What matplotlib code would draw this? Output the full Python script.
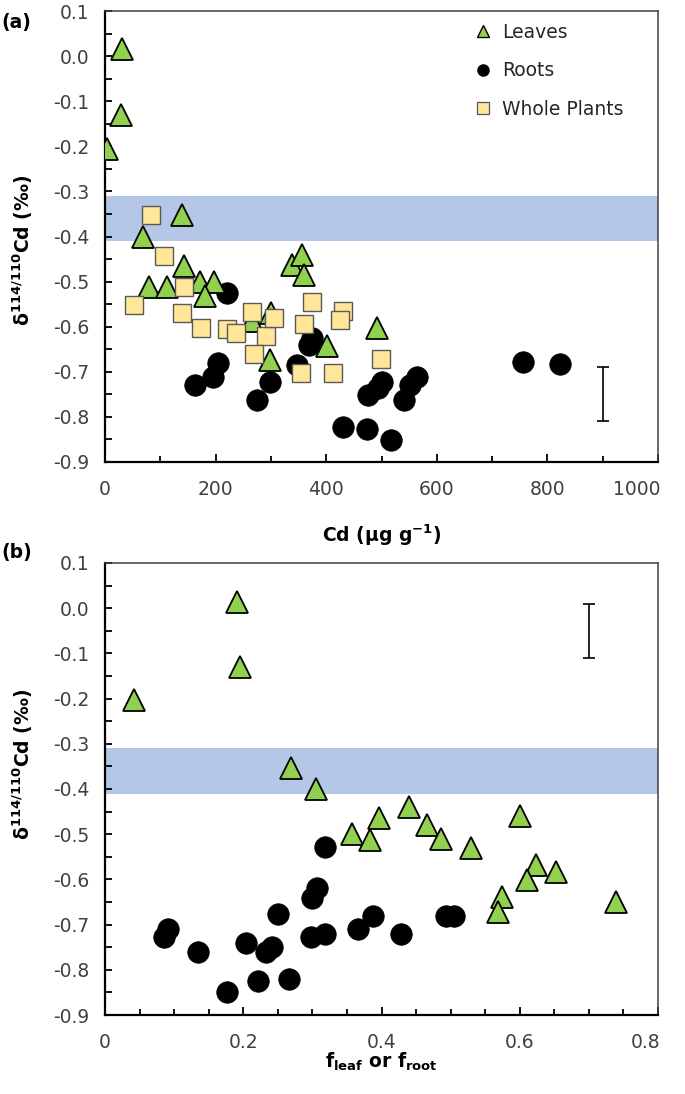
import matplotlib
matplotlib.use("Agg")
import matplotlib.pyplot as plt
from matplotlib.lines import Line2D
from matplotlib.ticker import MultipleLocator, FuncFormatter

# ---------------- data ----------------
# Panel (a): delta vs Cd concentration
leaves_cd = [3, 29, 30, 68, 140, 142, 80, 112, 171, 197, 181, 338, 356, 360, 266, 300, 298, 401, 491]
leaves_delta_a = [-0.206, -0.131, 0.016, -0.402, -0.352, -0.465, -0.511, -0.513, -0.500, -0.500,
                  -0.532, -0.463, -0.442, -0.486, -0.587, -0.570, -0.674, -0.642, -0.602]
roots_cd = [220, 205, 196, 163, 298, 275, 374, 368, 347, 431, 473, 518, 476, 493, 500, 541, 551, 564, 755, 823]
roots_delta_a = [-0.526, -0.681, -0.711, -0.729, -0.722, -0.763, -0.626, -0.641, -0.685, -0.822,
                 -0.827, -0.851, -0.751, -0.737, -0.722, -0.763, -0.729, -0.711, -0.679, -0.683]
whole_cd = [83, 107, 142, 52, 140, 174, 220, 237, 266, 292, 270, 306, 375, 431, 425, 360, 355, 413, 499]
whole_delta = [-0.352, -0.443, -0.511, -0.552, -0.570, -0.602, -0.606, -0.614, -0.568, -0.620,
               -0.660, -0.580, -0.545, -0.565, -0.585, -0.593, -0.702, -0.703, -0.672]

# Panel (b): delta vs fraction
leaves_f = [0.0415, 0.1905, 0.196, 0.269, 0.305, 0.358, 0.396, 0.383, 0.440, 0.466,
            0.486, 0.529, 0.600, 0.623, 0.652, 0.610, 0.574, 0.569, 0.739]
leaves_delta_b = [-0.203, 0.014, -0.130, -0.354, -0.400, -0.500, -0.465, -0.513, -0.440, -0.479,
                  -0.511, -0.530, -0.460, -0.569, -0.584, -0.601, -0.640, -0.672, -0.650]
roots_f = [0.0907, 0.0858, 0.134, 0.177, 0.2035, 0.221, 0.2325, 0.242, 0.2498, 0.2667,
           0.2975, 0.318, 0.300, 0.306, 0.318, 0.3665, 0.388, 0.428, 0.4933, 0.505]
roots_delta_b = [-0.710, -0.727, -0.761, -0.848, -0.740, -0.824, -0.761, -0.749, -0.677, -0.820,
                 -0.728, -0.721, -0.642, -0.620, -0.528, -0.710, -0.680, -0.721, -0.680, -0.682]

# shaded band (source range) and typical uncertainty bars
band = (-0.41, -0.31)
err_a = (900, -0.75, 0.06)
err_b = (0.70, -0.05, 0.06)

series_labels = ["Leaves", "Roots", "Whole Plants"]

# ---------------- style ----------------
plt.rcParams['font.family'] = ['DejaVu Sans']
plt.rcParams['mathtext.fontset'] = 'dejavusans'
GREEN = '#92d050'
YELLOW = '#ffe699'
BLUE = '#b4c7e7'
TICKC = '#404040'
FS = 13.5
XPAD = 13

fig = plt.figure(figsize=(6.85, 10.94), dpi=100)
ax_a = fig.add_axes([0.1533, 0.5777, 0.8073, 0.4122])
ax_b = fig.add_axes([0.1533, 0.0722, 0.8073, 0.4132])

fmt1 = FuncFormatter(lambda v, p: f"{round(v, 1):.1f}".replace("-0.0", "0.0"))


def style_axes(ax):
    ax.set_ylim(-0.9, 0.1)
    ax.yaxis.set_major_locator(MultipleLocator(0.1))
    ax.yaxis.set_minor_locator(MultipleLocator(0.05))
    ax.yaxis.set_major_formatter(fmt1)
    ax.tick_params(axis='both', which='both', direction='in', colors='black',
                   labelcolor=TICKC, labelsize=FS)
    ax.tick_params(axis='y', which='both', length=5, width=1.3, pad=11)
    ax.tick_params(axis='x', which='major', length=6, width=1.3, pad=XPAD)
    ax.tick_params(axis='x', which='minor', length=4, width=1.3)
    ax.tick_params(top=False, right=False, which='both')
    for s in ['left', 'bottom']:
        ax.spines[s].set_color('black')
        ax.spines[s].set_linewidth(1.6)
    for s in ['top', 'right']:
        ax.spines[s].set_color('#404040')
        ax.spines[s].set_linewidth(1.1)
    ax.axhspan(band[0], band[1], color=BLUE, lw=0, zorder=0.5)
    ax.set_ylabel(r'δ$^{\mathbf{114/110}}$Cd (‰)', fontsize=FS, fontweight='bold')


def scatter(ax, x, y, kind):
    if kind == 'leaves':
        ax.plot(x, y, ls='none', marker='^', ms=16, mfc=GREEN, mec='black', mew=1.3, zorder=3)
    elif kind == 'roots':
        ax.plot(x, y, ls='none', marker='o', ms=15.5, mfc='black', mec='black', mew=0.5, zorder=2)
    else:
        ax.plot(x, y, ls='none', marker='s', ms=13.5, mfc=YELLOW, mec='#595959', mew=1.0, zorder=4)


def x_formatter(xmax, fmt):
    # last label is drawn separately, right-aligned at the axis end (as in the original)
    def f(v, p):
        if abs(v - xmax) < 1e-9:
            return ""
        return fmt(v)
    return FuncFormatter(f)


def last_xlabel(ax, text):
    ax.annotate(text, xy=(1, 0), xycoords='axes fraction', xytext=(1.5, -XPAD),
                textcoords='offset points', ha='right', va='top', fontsize=FS, color=TICKC)


# ---------------- panel (a) ----------------
style_axes(ax_a)
ax_a.set_xlim(0, 1000)
ax_a.xaxis.set_major_locator(MultipleLocator(200))
ax_a.xaxis.set_minor_locator(MultipleLocator(100))
ax_a.xaxis.set_major_formatter(x_formatter(1000, lambda v: f"{v:.0f}"))
last_xlabel(ax_a, "1000")
scatter(ax_a, roots_cd, roots_delta_a, 'roots')
scatter(ax_a, leaves_cd, leaves_delta_a, 'leaves')
scatter(ax_a, whole_cd, whole_delta, 'whole')
ax_a.errorbar([err_a[0]], [err_a[1]], yerr=[err_a[2]], fmt='none', ecolor='black',
              elinewidth=1.2, capsize=4.5, capthick=1.2, zorder=5)
ax_a.set_xlabel(r'Cd (µg g$^{\mathbf{-1}}$)', fontsize=FS, fontweight='bold', labelpad=17)
ax_a.yaxis.set_label_coords(-0.127, 0.47)

handles = [
    Line2D([], [], ls='none', marker='^', ms=9, mfc=GREEN, mec='black', mew=1.0),
    Line2D([], [], ls='none', marker='o', ms=8, mfc='black', mec='black'),
    Line2D([], [], ls='none', marker='s', ms=8, mfc=YELLOW, mec='#595959', mew=0.9),
]
leg = ax_a.legend(handles, series_labels, loc='upper left', bbox_to_anchor=(0.636, 1.012),
                  frameon=False, fontsize=FS, handlelength=1.0, handletextpad=0.5,
                  labelspacing=1.05, borderpad=0.4)
for t in leg.get_texts():
    t.set_color('#262626')

# ---------------- panel (b) ----------------
style_axes(ax_b)
ax_b.set_xlim(0, 0.8)
ax_b.xaxis.set_major_locator(MultipleLocator(0.2))
ax_b.xaxis.set_minor_locator(MultipleLocator(0.05))
ax_b.xaxis.set_major_formatter(x_formatter(0.8, lambda v: "0" if abs(v) < 1e-9 else f"{v:.1f}"))
last_xlabel(ax_b, "0.8")
scatter(ax_b, roots_f, roots_delta_b, 'roots')
scatter(ax_b, leaves_f, leaves_delta_b, 'leaves')
ax_b.errorbar([err_b[0]], [err_b[1]], yerr=[err_b[2]], fmt='none', ecolor='black',
              elinewidth=1.2, capsize=4.5, capthick=1.2, zorder=5)
ax_b.set_xlabel(r'f$_{\mathbf{leaf}}$ or f$_{\mathbf{root}}$', fontsize=FS, fontweight='bold', labelpad=-1)
ax_b.yaxis.set_label_coords(-0.127, 0.555)

# panel letters
fig.text(0.002, 0.9885, '(a)', fontsize=FS, fontweight='bold', va='top', ha='left')
fig.text(0.002, 0.5040, '(b)', fontsize=FS, fontweight='bold', va='top', ha='left')

fig.savefig('out.png', dpi=100)
